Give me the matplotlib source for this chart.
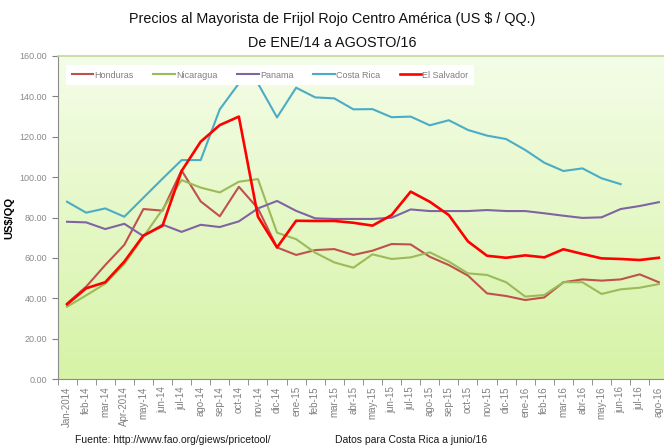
import numpy as np
import matplotlib.pyplot as plt
from matplotlib.ticker import FixedLocator, FormatStrFormatter
from matplotlib.colors import LinearSegmentedColormap

meses = ['Jan-2014', 'feb-14', 'mar-14', 'Apr-2014', 'may-14', 'jun-14', 'jul-14',
         'ago-14', 'sep-14', 'oct-14', 'nov-14', 'dic-14', 'ene-15', 'feb-15',
         'mar-15', 'abr-15', 'may-15', 'jun-15', 'jul-15', 'ago-15', 'sep-15',
         'oct-15', 'nov-15', 'dic-15', 'ene-16', 'feb-16', 'mar-16', 'abr-16',
         'may-16', 'jun-16', 'jul-16', 'ago-16']

honduras = [37.5, 45.8, 56.5, 66.5, 84.2, 83.4, 103.3, 88.0, 80.6, 95.2, 84.5, 65.2,
            61.5, 63.9, 64.4, 61.5, 63.6, 66.9, 66.7, 60.6, 56.5, 51.3, 42.5, 41.2,
            39.2, 40.5, 48.0, 49.4, 48.8, 49.4, 51.9, 48.0]
nicaragua = [35.9, 41.5, 47.3, 57.0, 70.5, 84.0, 98.5, 94.8, 92.4, 97.7, 99.0, 72.5,
             69.3, 62.6, 57.8, 55.2, 61.8, 59.5, 60.3, 62.8, 58.2, 52.4, 51.6, 48.0,
             40.9, 41.7, 48.0, 48.0, 42.2, 44.5, 45.3, 47.1]
panama = [77.9, 77.6, 74.3, 76.9, 70.8, 76.5, 72.9, 76.4, 75.3, 78.1, 84.5, 88.2,
          83.3, 79.6, 79.3, 79.3, 79.3, 79.9, 84.0, 83.2, 83.2, 83.2, 83.7, 83.2,
          83.2, 82.1, 80.9, 79.8, 80.1, 84.2, 85.7, 87.6]
costa_rica = [87.8, 82.4, 84.5, 80.4, 89.8, 99.2, 108.4, 108.4, 133.5, 146.3, 146.3,
              129.5, 144.2, 139.4, 138.9, 133.5, 133.6, 129.6, 129.9, 125.6, 128.1,
              123.3, 120.5, 118.8, 113.4, 107.1, 103.0, 104.3, 99.4, 96.5]
el_salvador = [37.1, 45.0, 48.0, 58.2, 71.1, 75.9, 103.0, 117.5, 125.7, 129.9, 80.4,
               65.2, 78.4, 78.3, 78.3, 77.4, 76.0, 81.2, 92.8, 87.8, 81.2, 68.2, 61.1,
               60.1, 61.3, 60.3, 64.3, 62.0, 59.8, 59.5, 59.0, 60.1]

series = [
    ('Honduras', honduras, '#c0504d', 1.5),
    ('Nicaragua', nicaragua, '#9bbb59', 1.5),
    ('Panama', panama, '#8064a2', 1.5),
    ('Costa Rica', costa_rica, '#4bacc6', 1.5),
    ('El Salvador', el_salvador, '#ff0000', 1.9),
]

plt.rcParams['font.family'] = ['Liberation Sans', 'DejaVu Sans']

fig = plt.figure(figsize=(6.64, 4.48), dpi=100)
ax = fig.add_axes([0.0866, 0.1533, 0.920, 0.7223])

n = len(meses)
ax.set_xlim(-0.5, n - 0.5)
ax.set_ylim(0, 160)

# fondo degradado del area de trazado
grad = np.linspace(0, 1, 256).reshape(-1, 1)
cmap = LinearSegmentedColormap.from_list('fondo', ['#d6f3a6', '#f4fde8'])
ax.imshow(grad, cmap=cmap, aspect='auto', extent=[-0.5, n - 0.5, 0, 160],
          origin='lower', zorder=0)

for nombre, valores, color, lw in series:
    x = np.arange(len(valores))
    ax.plot(x, valores, color=color, lw=lw, label=nombre, zorder=3,
            solid_joinstyle='round')

ax.set_yticks(np.arange(0, 161, 20))
ax.yaxis.set_major_formatter(FormatStrFormatter('%.2f'))
ax.tick_params(axis='y', labelsize=6.5, labelcolor='#8a8a8a', color='#808080',
               length=4, direction='out')

ax.set_xticks(np.arange(n))
ax.set_xticklabels(meses, rotation=90, fontsize=7, color='#808080')
ax.xaxis.set_minor_locator(FixedLocator(np.arange(n + 1) - 0.5))
ax.tick_params(axis='x', which='major', length=0, pad=5)
ax.tick_params(axis='x', which='minor', length=4, color='#808080', direction='out')

for lado in ['left', 'bottom']:
    ax.spines[lado].set_color('#8c8c8c')
for lado in ['top', 'right']:
    ax.spines[lado].set_color('#c4d79b')
    ax.spines[lado].set_linewidth(1.2)

ax.set_ylabel('US$/QQ', fontsize=8, fontweight='bold', labelpad=4)

leg = ax.legend(loc='upper left', bbox_to_anchor=(0.007, 0.985), ncol=5,
                fontsize=6.5, frameon=True, fancybox=False, framealpha=1,
                edgecolor='none', handlelength=2.4, columnspacing=2.2,
                handletextpad=0.1, borderpad=0.6)
for t in leg.get_texts():
    t.set_color('#7f7f7f')

fig.text(0.5, 0.958, 'Precios al Mayorista de Frijol Rojo Centro América (US $ / QQ.)',
         ha='center', va='center', fontsize=10.4, color='#111111')
fig.text(0.5, 0.905, 'De ENE/14 a AGOSTO/16', ha='center', va='center',
         fontsize=10.4, color='#111111')

fig.text(0.113, 0.017, 'Fuente: http://www.fao.org/giews/pricetool/', fontsize=7.5,
         color='#1a1a1a', va='center')
fig.text(0.505, 0.017, 'Datos para Costa Rica a junio/16', fontsize=7.5,
         color='#1a1a1a', va='center')

fig.savefig('out.png', dpi=100)
